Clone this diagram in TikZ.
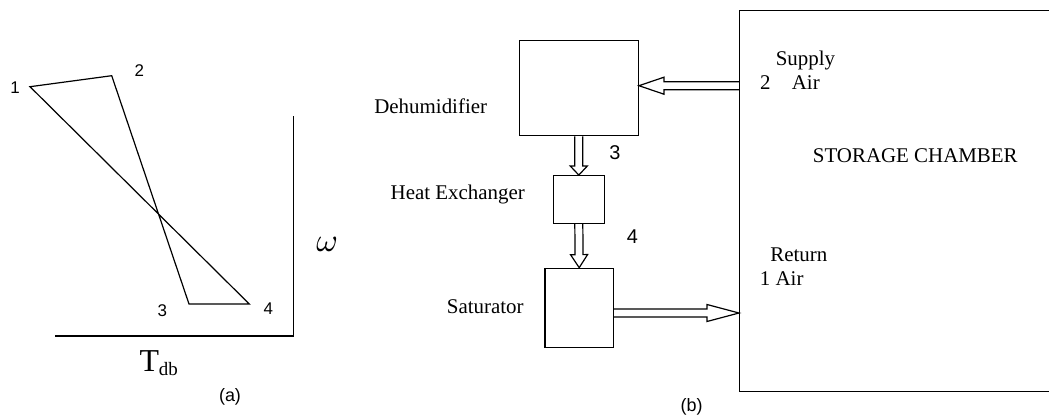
\documentclass[tikz,border=0pt]{standalone}
\usepackage{graphicx}
\usepackage{fontspec}
\setmainfont{Liberation Serif}
\setsansfont{Liberation Sans}
\usetikzlibrary{calc}

\tikzset{
  unit/.style={draw, line width=1.3bp, inner sep=0pt},
  lbl/.style={font=\fontsize{21}{21}\selectfont, inner sep=0pt, anchor=base},
  num/.style={font=\sffamily\fontsize{20}{20}\selectfont, inner sep=0pt, anchor=base},
  smallnum/.style={font=\sffamily\fontsize{17}{17}\selectfont, inner sep=0pt, anchor=base},
  figcap/.style={font=\sffamily\fontsize{18}{18}\selectfont, inner sep=0pt, anchor=base},
  flow/.style={line width=1.2bp},
}
% hollow block arrow: #1 head length, #2 from, #3 to
\newcommand\flowarrow[3]{%
  \draw[flow] ($(#2)!4bp!90:(#3)$)
    -- ($(#3)!#1!(#2)!4bp!90:(#3)$)
    -- ($(#3)!#1!(#2)!8.5bp!90:(#3)$)
    -- (#3)
    -- ($(#3)!#1!(#2)!8.5bp!-90:(#3)$)
    -- ($(#3)!#1!(#2)!4bp!-90:(#3)$)
    -- ($(#2)!4bp!-90:(#3)$);}

\begin{document}
\begin{tikzpicture}[x=1bp, y=-1bp]
  \path[use as bounding box, clip] (0,0) rectangle (1049,417);

  % (a) states on the chart
  \coordinate (p1) at (30,86.7);
  \coordinate (p2) at (111.7,75.7);
  \coordinate (p3) at (189,304);
  \coordinate (p4) at (249.3,304);
  \draw[line width=1.2bp] (p1) -- (p2) -- (p3) -- (p4) -- cycle;
  \draw[line width=1.3bp] (293.3,116) -- (293.3,336) -- (55,336);
  \node[smallnum] (n1) at (15,93.3) {1};
  \node[smallnum] (n2) at (139.3,76.7) {2};
  \node[smallnum] (n3) at (162.3,316.7) {3};
  \node[smallnum] (n4) at (268.3,314) {4};
  \node[anchor=base, inner sep=0pt] (omega) at (327.3,251.7) {\scalebox{3.3}{$\omega$}};
  \node[anchor=base west, inner sep=0pt] (tdb) at (139.3,371.7)
    {\fontsize{32}{32}\selectfont T\fontsize{19}{19}\selectfont\raisebox{-3.5bp}{db}};
  \node[figcap] (capa) at (230,401.7) {(a)};

  % (b) plant
  \node[unit, minimum width=119bp, minimum height=95bp] (dehum) at (578.8,88.2) {};
  \node[unit, minimum width=51bp, minimum height=47.6bp] (hx) at (578.8,199.5) {};
  \node[unit, minimum width=68.3bp, minimum height=79.4bp] (sat) at (579.2,308) {};
  \node[unit, minimum width=330bp, minimum height=381bp, anchor=north west] (chamber) at (739,10) {};

  \node[lbl] (dehumtxt) at (430.7,113.3) {Dehumidifier};
  \node[lbl] (hxtxt) at (457.8,199.3) {Heat Exchanger};
  \node[lbl] (sattxt) at (485.3,313.3) {Saturator};
  \node[num] (b3) at (615,159.3) {3};
  \node[num] (b4) at (632.3,243.3) {4};

  \node[lbl] (supply) at (805.5,65.7) {Supply};
  \node[lbl] (s2) at (765.3,89) {2};
  \node[lbl] (sair) at (805.8,89) {Air};
  \node[lbl] (store) at (915.3,162.7) {STORAGE CHAMBER};
  \node[lbl] (return) at (798.8,261.7) {Return};
  \node[lbl] (rair) at (781.7,285) {1 Air};
  \node[figcap] (capb) at (691.7,411.7) {(b)};

  \coordinate (dehumin) at ([yshift=2.5bp]dehum.east);
  \coordinate (supplyout) at (dehumin -| chamber.west);
  \coordinate (satout) at ([yshift=-5bp]sat.east);
  \coordinate (returnin) at (satout -| chamber.west);

  \flowarrow{25bp}{supplyout}{dehumin}
  \flowarrow{9bp}{dehum.south}{hx.north}
  \flowarrow{13bp}{hx.south}{sat.north}
  \flowarrow{32bp}{satout}{returnin}
\end{tikzpicture}
\end{document}
